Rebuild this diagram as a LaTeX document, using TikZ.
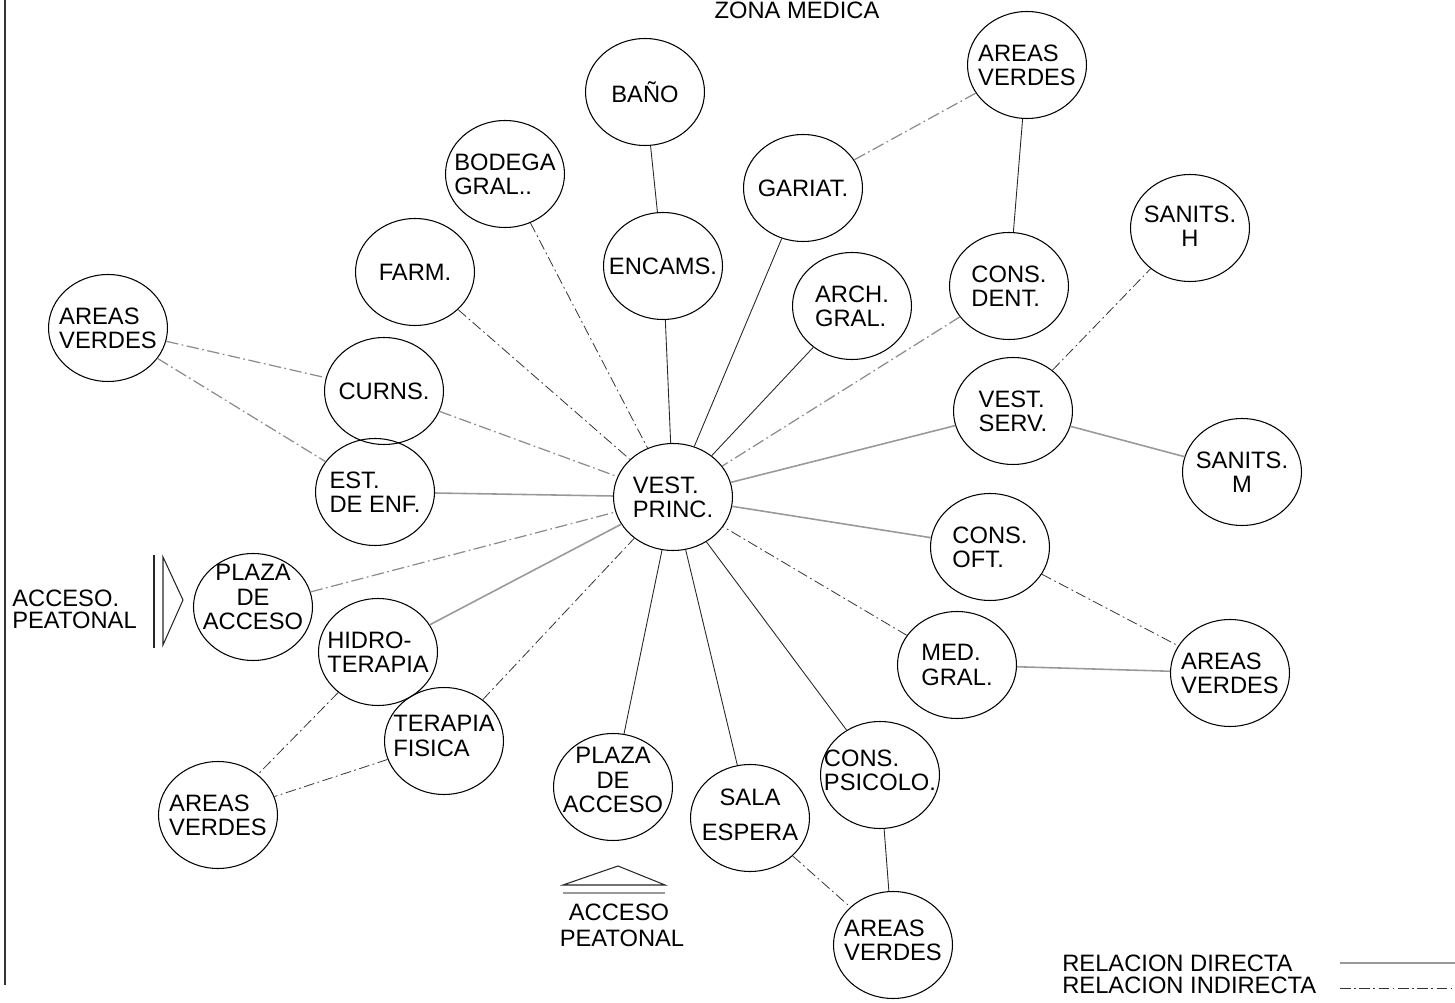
\documentclass[tikz,border=0pt]{standalone}
\usepackage{fontspec}
\setmainfont{Liberation Sans}
\usetikzlibrary{shapes.geometric}
\begin{document}
\begin{tikzpicture}[x=0.02cm,y=-0.02cm,
  room/.style={draw=black, line width=0.6pt, ellipse, minimum width=2.38cm, minimum height=2.14cm, inner sep=0pt},
  lbl/.style={inner sep=0pt, align=left, font=\fontsize{13.5}{13.8}\selectfont},
  txt/.style={inner sep=0pt, align=left, font=\fontsize{13.5}{13.8}\selectfont},
  dirk/.style={draw=black!85, line width=0.5pt},
  dirg/.style={draw=black!40, line width=0.9pt},
  indk/.style={draw=black!80, line width=0.45pt, dash pattern=on 6pt off 2pt on 1pt off 2pt},
  indg/.style={draw=black!45, line width=0.7pt, dash pattern=on 7pt off 2pt on 1pt off 2pt}]
\useasboundingbox (0,0) rectangle (1455,1003);
\newcommand\room[4]{\node[room] (#1) at (#2) {}; \node[lbl,#3] (#1t) at (#1) {#4};}
% border
\draw[black!80, line width=0.7pt] (5,0) -- (5,985);
% title
\node[txt] (zona) at (797,10) {ZONA MEDICA};
% rooms
\room{bano}{645,92}{}{BAÑO}
\room{avt}{1027,65}{}{AREAS\\VERDES}
\room{bod}{505,174}{}{BODEGA\\GRAL..}
\room{gar}{803,188}{}{GARIAT.}
\room{enc}{663,266}{}{ENCAMS.}
\room{farm}{415,272}{}{FARM.}
\room{sanh}{1190,228}{align=center,yshift=0.04cm}{SANITS.\\H}
\room{dent}{1009,286}{}{CONS.\\DENT.}
\room{arch}{852,306}{}{ARCH.\\GRAL.}
\room{avl}{108,328}{}{AREAS\\VERDES}
\room{curns}{384,391}{}{CURNS.}
\room{serv}{1013,411}{}{VEST.\\SERV.}
\room{vp}{673,497}{}{VEST.\\PRINC.}
\room{est}{375,492}{}{EST.\\DE ENF.}
\room{sanm}{1242,472}{align=center}{SANITS.\\M}
\room{oft}{990,547}{}{CONS.\\OFT.}
\room{plz}{253,607}{align=center,yshift=0.2cm}{PLAZA\\DE\\ACCESO}
\room{hid}{378,652}{}{HIDRO-\\TERAPIA}
\room{med}{957,665}{}{MED.\\GRAL.}
\room{avr}{1230,673}{}{AREAS\\VERDES}
\room{ter}{444,741}{yshift=0.1cm}{TERAPIA\\FISICA}
\room{plzb}{613,787}{align=center,yshift=0.14cm}{PLAZA\\DE\\ACCESO}
\room{sala}{750,818}{align=center,yshift=0.06cm,font=\fontsize{13.5}{20}\selectfont}{SALA\\ESPERA}
\room{psi}{880,775}{yshift=0.1cm}{CONS.\\PSICOLO.}
\room{avbl}{218,815}{}{AREAS\\VERDES}
\room{avb}{893,945}{yshift=0.1cm}{AREAS\\VERDES}
% connectors
\draw[dirk] (bano) -- (enc);
\draw[dirk] (enc) -- (vp);
\draw[indk] (bod) -- (vp);
\draw[indk] (farm) -- (vp);
\draw[indg] (curns) -- (vp);
\draw[indg] (avl) -- (curns);
\draw[indg] (avl) -- (est);
\draw[dirg] (est) -- (vp);
\draw[indg] (plz) -- (vp);
\draw[dirg] (hid) -- (vp);
\draw[indk] (ter) -- (vp);
\draw[indk] (hid) -- (avbl);
\draw[indk] (ter) -- (avbl);
\draw[dirk] (plzb) -- (vp);
\draw[dirk] (sala) -- (vp);
\draw[dirk] (psi) -- (vp);
\draw[indk] (sala) -- (avb);
\draw[dirk] (psi) -- (avb);
\draw[indk] (med) -- (vp);
\draw[dirg] (oft) -- (vp);
\draw[indk] (oft) -- (avr);
\draw[dirg] (med) -- (avr);
\draw[dirg] (serv) -- (vp);
\draw[dirg] (serv) -- (sanm);
\draw[indk] (serv) -- (sanh);
\draw[indg] (dent) -- (vp);
\draw[dirk] (arch) -- (vp);
\draw[dirk] (gar) -- (vp);
\draw[indg] (gar) -- (avt);
\draw[dirk] (avt) -- (dent);
% left access
\coordinate (la1) at (154,555);
\coordinate (la2) at (154,648);
\draw[black!85, line width=0.6pt] (la1) -- (la2);
\coordinate (lt1) at (163,557);
\coordinate (lt2) at (183,600);
\coordinate (lt3) at (163,645);
\draw[black!85, line width=0.6pt] (lt1) -- (lt2) -- (lt3) -- cycle;
\node[txt, anchor=west] (acc1) at (12,598) {ACCESO.};
\node[txt, anchor=west] (acc2) at (12,620) {PEATONAL};
% bottom access
\coordinate (bt1) at (563,885);
\coordinate (bt2) at (618,866);
\coordinate (bt3) at (665,885);
\draw[black!85, line width=0.6pt] (bt1) -- (bt2) -- (bt3) -- cycle;
\coordinate (bl1) at (563,893);
\coordinate (bl2) at (665,893);
\draw[dirg] (bl1) -- (bl2);
\node[txt] (acc3) at (619,912) {ACCESO};
\node[txt] (acc4) at (622,938) {PEATONAL};
% legend
\node[txt, anchor=west] (leg1) at (1062,963) {RELACION DIRECTA};
\node[txt, anchor=west] (leg2) at (1062,985) {RELACION INDIRECTA};
\coordinate (lg1a) at (1340,963);
\coordinate (lg1b) at (1455,963);
\coordinate (lg2a) at (1340,988);
\coordinate (lg2b) at (1455,988);
\draw[dirg] (lg1a) -- (lg1b);
\draw[indk] (lg2a) -- (lg2b);
\end{tikzpicture}
\end{document}
